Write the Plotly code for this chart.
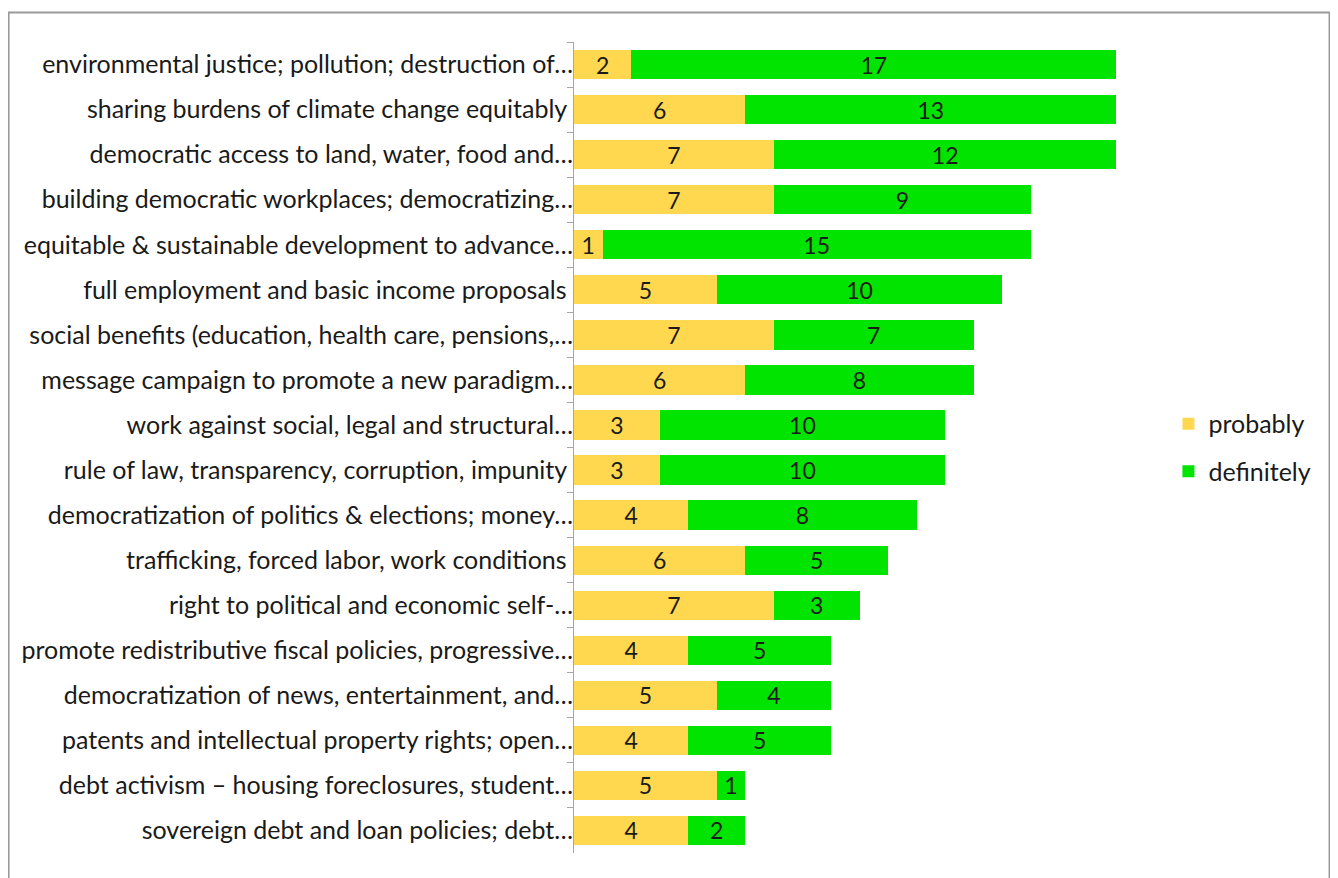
import plotly.graph_objects as go

# categories top to bottom as shown in the chart
topics = [
    "environmental justice; pollution; destruction of…",
    "sharing burdens of climate change equitably ",
    "democratic access to land, water, food and…",
    "building democratic workplaces; democratizing…",
    "equitable & sustainable development to advance…",
    "full employment and basic income proposals ",
    "social benefits (education, health care, pensions,…",
    "message campaign to promote a new paradigm…",
    "work against social, legal and structural…",
    "rule of law, transparency, corruption, impunity ",
    "democratization of politics & elections; money…",
    "trafficking, forced labor, work conditions ",
    "right to political and economic self-…",
    "promote redistributive fiscal policies, progressive…",
    "democratization of news, entertainment, and…",
    "patents and intellectual property rights; open…",
    "debt activism – housing foreclosures, student…",
    "sovereign debt and loan policies; debt…",
]
probably = [2, 6, 7, 7, 1, 5, 7, 6, 3, 3, 4, 6, 7, 4, 5, 4, 5, 4]
definitely = [17, 13, 12, 9, 15, 10, 7, 8, 10, 10, 8, 5, 3, 5, 4, 5, 1, 2]

# page has an 8px body margin, so figure coords = page coords - 8
W, H = 1330, 870
x0_px, x1_px = 566, 1136.6   # value 0 and 20
y_top, y_bot = 33.5, 844.6

fig = go.Figure()
for name, vals, col in [("probably", probably, "#FFD84F"), ("definitely", definitely, "#00E400")]:
    fig.add_trace(go.Bar(
        y=topics, x=vals, name=name, orientation="h", legendgroup=name,
        marker=dict(color=col, line=dict(width=0)),
        text=vals, textposition="inside", insidetextanchor="middle", textangle=0,
        textfont=dict(size=23, color="#1a1a1a"),
        constraintext="none",
    ))

def px_x(p):
    return (p - x0_px) / (x1_px - x0_px)

def px_y(p):
    return (y_bot - p) / (y_bot - y_top)

fig.update_layout(
    barmode="stack",
    bargap=0.35,
    width=W, height=H,
    margin=dict(l=x0_px, r=W - x1_px, t=y_top, b=H - y_bot, pad=0),
    plot_bgcolor="white",
    paper_bgcolor="white",
    font=dict(family="Lato", size=25, color="#1a1a1a"),
    legend=dict(x=px_x(1160), y=px_y(439), yanchor="middle", xanchor="left",
                traceorder="grouped", font=dict(size=25), tracegroupgap=12,
                itemwidth=30),
    shapes=[dict(type="rect", xref="paper", yref="paper",
                 x0=px_x(1), x1=px_x(1321), y0=px_y(880), y1=px_y(4),
                 line=dict(color="#9a9a9a", width=2))],
)
fig.update_xaxes(range=[0, 20], visible=False)
fig.update_yaxes(categoryorder="array", categoryarray=topics, autorange="reversed",
                 showline=True, linecolor="#a6a6a6", linewidth=1,
                 ticks="outside", tickson="boundaries", ticklen=6, tickcolor="#a6a6a6",
                 showgrid=False, tickfont=dict(size=25), ticklabelstandoff=-5)

fig.write_html("out.html")
